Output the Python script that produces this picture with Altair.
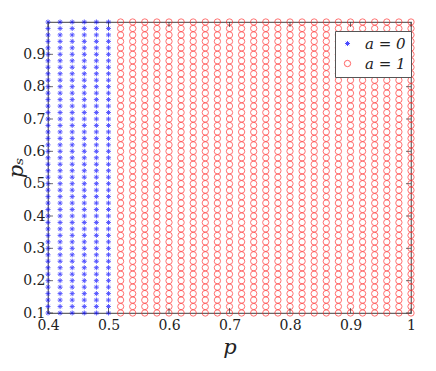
import altair as alt
import pandas as pd

# grid of p values for each class
p_a0 = [0.40, 0.42, 0.44, 0.46, 0.48, 0.50]
p_a1 = [0.52, 0.54, 0.56, 0.58, 0.60, 0.62, 0.64, 0.66, 0.68, 0.70,
        0.72, 0.74, 0.76, 0.78, 0.80, 0.82, 0.84, 0.86, 0.88, 0.90,
        0.92, 0.94, 0.96, 0.98, 1.00]
ps_values = [0.10, 0.12, 0.14, 0.16, 0.18, 0.20, 0.22, 0.24, 0.26, 0.28,
             0.30, 0.32, 0.34, 0.36, 0.38, 0.40, 0.42, 0.44, 0.46, 0.48,
             0.50, 0.52, 0.54, 0.56, 0.58, 0.60, 0.62, 0.64, 0.66, 0.68,
             0.70, 0.72, 0.74, 0.76, 0.78, 0.80, 0.82, 0.84, 0.86, 0.88,
             0.90, 0.92, 0.94, 0.96, 0.98, 1.00]
labels = ["a = 0", "a = 1"]
x_ticks = [0.4, 0.5, 0.6, 0.7, 0.8, 0.9, 1.0]
y_ticks = [0.1, 0.2, 0.3, 0.4, 0.5, 0.6, 0.7, 0.8, 0.9]

rows = []
for p in p_a0:
    for s in ps_values:
        rows.append({"p": p, "ps": s, "a": labels[0]})
for p in p_a1:
    for s in ps_values:
        rows.append({"p": p, "ps": s, "a": labels[1]})
df = pd.DataFrame(rows)

W, H = 363, 291
FONT = "DejaVu Serif"
ASTERISK = ("M-0.8,0L0.8,0M0,-0.8L0,0.8M-0.55,-0.55L0.55,0.55"
            "M-0.55,0.55L0.55,-0.55")

xscale = alt.Scale(domain=[0.4, 1.0], nice=False, zero=False)
yscale = alt.Scale(domain=[0.1, 1.0], nice=False, zero=False)

x_axis = alt.Axis(values=x_ticks, title="p", domain=False, ticks=False, grid=False,
                  labelPadding=5, titlePadding=4, labelFlush=False,
                  labelOverlap=False,
                  labelExpr="datum.value == 1 ? '1' : format(datum.value, '.1f')")
y_axis = alt.Axis(values=y_ticks, title="pₛ", domain=False, ticks=False, grid=False,
                  labelPadding=3, format=".1f", titleX=-22, titleY=H / 2,
                  labelFlush=False, labelOverlap=False)

points = alt.Chart(df).mark_point(filled=False, strokeWidth=0.9, size=40).encode(
    x=alt.X("p:Q", scale=xscale, axis=x_axis),
    y=alt.Y("ps:Q", scale=yscale, axis=y_axis),
    color=alt.Color("a:N", scale=alt.Scale(domain=labels, range=["#0000ff", "#ff2020"]),
                    legend=alt.Legend(title=None, orient="none", legendX=287, legendY=9,
                                      labelFont=FONT, labelFontSize=15, labelFontStyle="italic",
                                      labelColor="#222",
                                      fillColor="white", strokeColor="#555", padding=5,
                                      symbolSize=40, symbolStrokeWidth=1, rowPadding=4,
                                      labelOffset=10)),
    shape=alt.Shape("a:N", scale=alt.Scale(domain=labels, range=[ASTERISK, "circle"]),
                    legend=alt.Legend(title=None, orient="none", legendX=287, legendY=9)),
)

xt = pd.DataFrame({"v": x_ticks})
yt = pd.DataFrame({"v": y_ticks})
tick_style = dict(color="#333", thickness=1, size=5)
tb = alt.Chart(xt).mark_tick(orient="vertical", **tick_style).encode(
    x=alt.X("v:Q", scale=xscale, axis=x_axis), y=alt.value(H - 2.5))
tt = alt.Chart(xt).mark_tick(orient="vertical", **tick_style).encode(
    x=alt.X("v:Q", scale=xscale, axis=x_axis), y=alt.value(2.5))
tl = alt.Chart(yt).mark_tick(orient="horizontal", **tick_style).encode(
    y=alt.Y("v:Q", scale=yscale, axis=y_axis), x=alt.value(2.5))
tr = alt.Chart(yt).mark_tick(orient="horizontal", **tick_style).encode(
    y=alt.Y("v:Q", scale=yscale, axis=y_axis), x=alt.value(W - 2.5))

chart = alt.layer(points, tb, tt, tl, tr).properties(
    width=W, height=H, background="white",
    autosize=alt.AutoSizeParams(type="none"),
    padding={"left": 40, "top": 14, "right": 17, "bottom": 50},
).configure_axis(
    labelFont=FONT, labelFontSize=14, labelColor="#222",
    titleFont=FONT, titleFontSize=21, titleFontStyle="italic",
    titleFontWeight="normal", titleColor="#222",
).configure_view(stroke="#666", strokeWidth=1.2)

chart.save("out.html", embed_options={"renderer": "svg", "actions": False})
